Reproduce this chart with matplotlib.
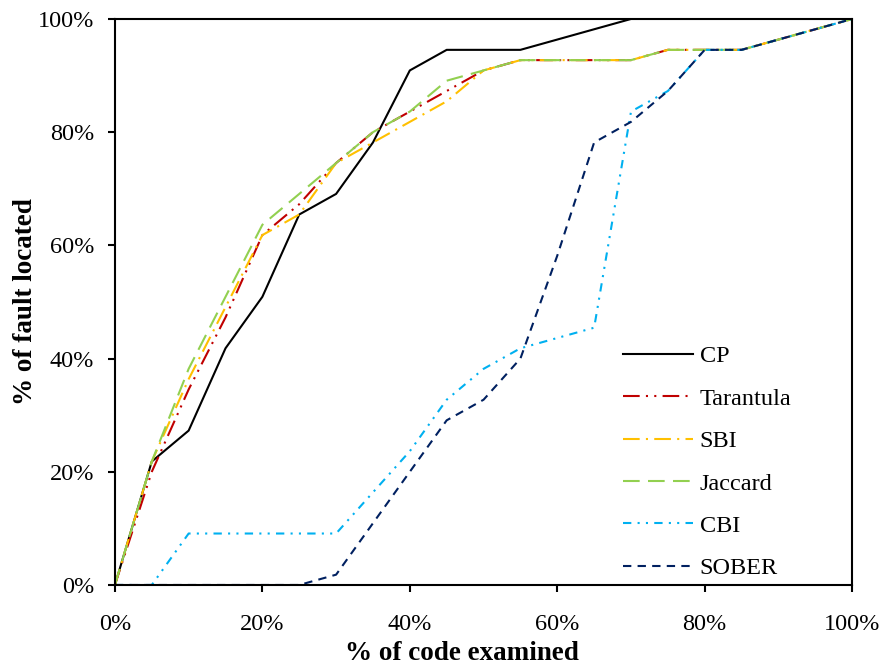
import numpy as np
import matplotlib
matplotlib.use('Agg')
import matplotlib.pyplot as plt
from matplotlib.ticker import PercentFormatter

plt.rcParams['font.family'] = ['Liberation Serif', 'DejaVu Serif']

# % of code examined
x = [0, 5, 10, 15, 20, 25, 30, 35, 40, 45, 50, 55, 60, 65, 70, 75, 80, 85, 90, 95, 100]

# faults located (out of 55)
cp        = [0, 12, 15, 23, 28, 36, 38, 43, 50, 52, 52, 52, 53, 54, 55, 55, 55, 55, 55, 55, 55]
tarantula = [0, 11, 19, 26, 34, 37, 41, 44, 46, 48, 50, 51, 51, 51, 51, 52, 52, 52, 53, 54, 55]
sbi       = [0, 12, 20, 27, 34, 36, 41, 43, 45, 47, 50, 51, 51, 51, 51, 52, 52, 52, 53, 54, 55]
jaccard   = [0, 12, 21, 28, 35, 38, 41, 44, 46, 49, 50, 51, 51, 51, 51, 52, 52, 52, 53, 54, 55]
cbi       = [0, 0, 5, 5, 5, 5, 5, 9, 13, 18, 21, 23, 24, 25, 46, 48, 52, 52, 53, 54, 55]
sober     = [0, 0, 0, 0, 0, 0, 1, 6, 11, 16, 18, 22, 32, 43, 45, 48, 52, 52, 53, 54, 55]
n_faults = 55

series = [
    ('CP', cp, '#000000', '-'),
    ('Tarantula', tarantula, '#C00000', (0, (8, 3, 1, 3, 1, 3))),
    ('SBI', sbi, '#FFC000', (0, (8, 3, 1, 3))),
    ('Jaccard', jaccard, '#92D050', (0, (8, 4))),
    ('CBI', cbi, '#00B0F0', (0, (4, 3, 1, 3, 1, 3))),
    ('SOBER', sober, '#002060', (0, (4, 3))),
]

fig = plt.figure(figsize=(8.84, 6.68), dpi=100)
ax = fig.add_axes([0.130, 0.1243, 0.834, 0.8473])

for name, vals, color, ls in series:
    y = np.array(vals) / n_faults * 100
    ax.plot(x, y, color=color, linestyle=ls, linewidth=1.5, label=name)

ax.set_xlim(0, 100)
ax.set_ylim(0, 100)
ax.set_xticks(np.arange(0, 101, 20))
ax.set_yticks(np.arange(0, 101, 20))
ax.xaxis.set_major_formatter(PercentFormatter(decimals=0))
ax.yaxis.set_major_formatter(PercentFormatter(decimals=0))
ax.tick_params(direction='out', length=5, width=1.5, labelsize=17.5)
ax.tick_params(axis='x', pad=16)
ax.tick_params(axis='y', pad=10)
for s in ax.spines.values():
    s.set_linewidth(1.5)

ax.set_xlabel('% of code examined', fontsize=19.5, fontweight='bold', labelpad=4.5, x=0.471)
ax.set_ylabel('% of fault located', fontsize=19.5, fontweight='bold', labelpad=0)

ax.legend(loc='upper left', bbox_to_anchor=(0.673, 0.445), frameon=False, borderpad=0,
          fontsize=17.5, handlelength=2.85, labelspacing=0.84, handletextpad=0.3)

fig.savefig('out.png', dpi=100)
